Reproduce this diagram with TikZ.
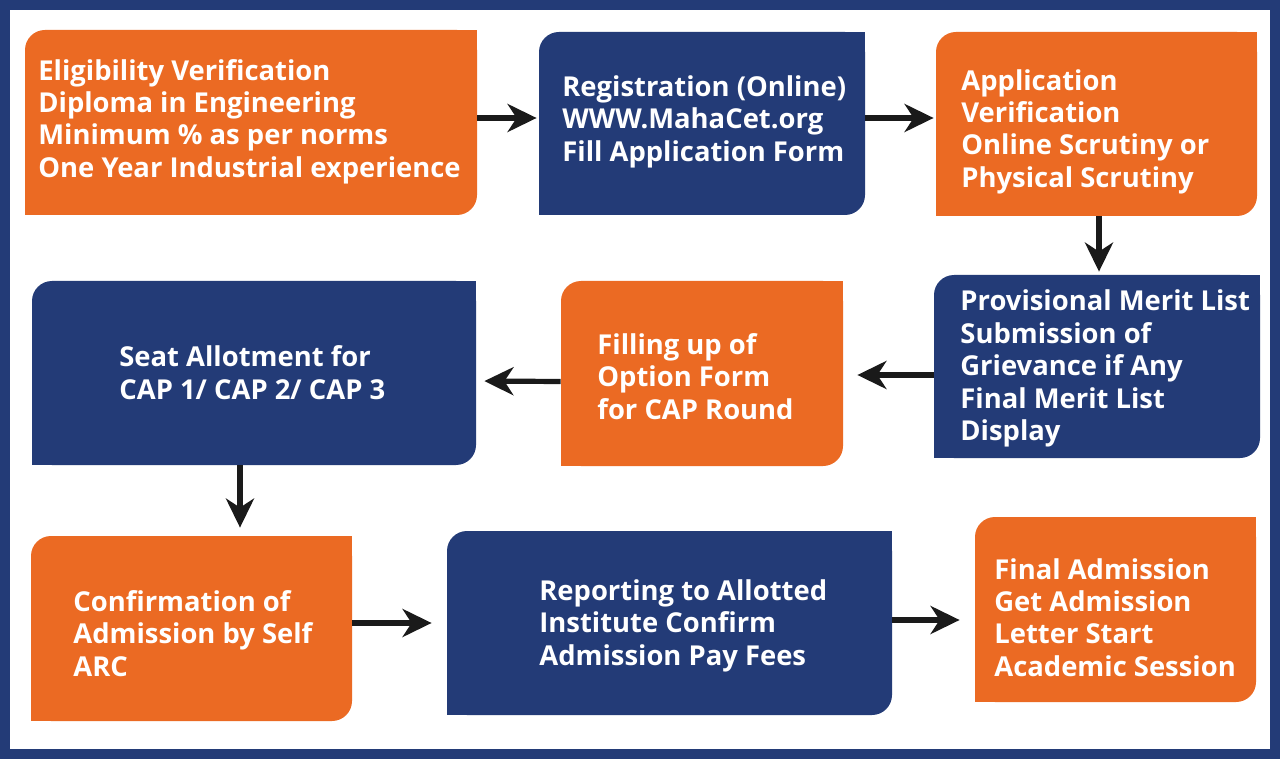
\documentclass[tikz,border=0pt]{standalone}
\usepackage{fontspec}
\setmainfont{Open Sans}
\usetikzlibrary{arrows.meta}
\definecolor{borange}{HTML}{EB6A23}
\definecolor{bblue}{HTML}{233B77}
\definecolor{arrowc}{HTML}{1A1A1A}
\tikzset{
  boxbase/.style={rectangle, rounded corners=10pt, inner sep=0pt, draw=none},
  obox/.style={boxbase, fill=borange},
  bbox/.style={boxbase, fill=bblue},
  txt/.style={inner sep=0pt, anchor=west, align=left, text=white, yshift=-1.75pt, font=\fontsize{13.7}{16.2}\selectfont\bfseries},
  conn/.style={draw=arrowc, line width=2.6pt, -{Stealth[length=14.5pt, width=14pt, inset=4.5pt]}}
}
\begin{document}
\begin{tikzpicture}[x=0.5pt, y=-0.5pt]
\useasboundingbox (0,0) rectangle (1280,759);
\fill[bblue] (0,0) rectangle (1280,759);
\fill[white] (10,10) rectangle (1270,749);

% boxes
\node[obox, minimum width=226pt, minimum height=92.5pt] (b1) at (251,122.5) {};
\node[bbox, minimum width=163pt, minimum height=91.5pt] (b2) at (702,123.5) {};
\node[obox, minimum width=160.5pt, minimum height=92pt] (b3) at (1096.5,124) {};
\node[bbox, minimum width=163pt, minimum height=91.5pt] (b4) at (1097,366.5) {};
\node[obox, minimum width=141pt, minimum height=92.5pt] (b5) at (702,373.5) {};
\node[bbox, minimum width=222pt, minimum height=92pt] (b6) at (254,373) {};
\node[obox, minimum width=160.5pt, minimum height=92.5pt] (b7) at (191.5,628.5) {};
\node[bbox, minimum width=222.5pt, minimum height=92pt] (b8) at (669.5,623) {};
\node[obox, minimum width=140.5pt, minimum height=92.5pt] (b9) at (1115.5,609.5) {};

% square the top-right and bottom-left corners
\foreach \n in {b1,b3,b5,b7,b9}{
  \fill[borange] (\n.north east) rectangle ++(-20,20);
  \fill[borange] (\n.south west) rectangle ++(20,-20);
}
\foreach \n in {b2,b4,b6,b8}{
  \fill[bblue] (\n.north east) rectangle ++(-20,20);
  \fill[bblue] (\n.south west) rectangle ++(20,-20);
}

% texts
\node[txt] (t1) at (38,118) {Eligibility Verification\\Diploma in Engineering\\Minimum \% as per norms\\One Year Industrial experience};
\node[txt] (t2) at (562,118) {Registration (Online)\\WWW.MahaCet.org\\Fill Application Form};
\node[txt] (t3) at (961,128) {Application\\Verification\\Online Scrutiny or\\Physical Scrutiny};
\node[txt] (t4) at (960,365) {Provisional Merit List\\Submission of\\Grievance if Any\\Final Merit List\\Display};
\node[txt] (t5) at (597,373) {Filling up of\\Option Form\\for CAP Round};
\node[txt] (t6) at (119,369) {Seat Allotment for\\CAP 1/ CAP 2/ CAP 3};
\node[txt] (t7) at (73,630) {Confirmation of\\Admission by Self\\ARC};
\node[txt] (t8) at (539,622) {Reporting to Allotted\\Institute Confirm\\Admission Pay Fees};
\node[txt] (t9) at (994,614) {Final Admission\\Get Admission\\Letter Start\\Academic Session};

% connectors
\draw[conn, shorten >=1pt] ([yshift=2.25pt]b1.east) -- ([yshift=2.75pt]b2.west);
\draw[conn, shorten >=1pt] ([yshift=2.75pt]b2.east) -- ([yshift=3pt]b3.west);
\draw[conn, shorten >=1.5pt] ([xshift=1.25pt]b3.south) -- ([xshift=1pt]b4.north);
\draw[conn, shorten >=7pt] ([yshift=-4.25pt]b4.west) -- ([yshift=-0.75pt]b5.east);
\draw[conn, shorten >=4pt] ([yshift=-4pt]b5.west) -- ([yshift=-4pt]b6.east);
\draw[conn, shorten >=4pt] ([xshift=-7pt]b6.south) -- ([xshift=24.25pt]b7.north);
\draw[conn, shorten >=7.5pt] ([yshift=2.75pt]b7.east) -- (b8.west);
\draw[conn, shorten >=7.5pt] ([yshift=1.5pt]b8.east) -- ([yshift=-5.25pt]b9.west);
\end{tikzpicture}
\end{document}
